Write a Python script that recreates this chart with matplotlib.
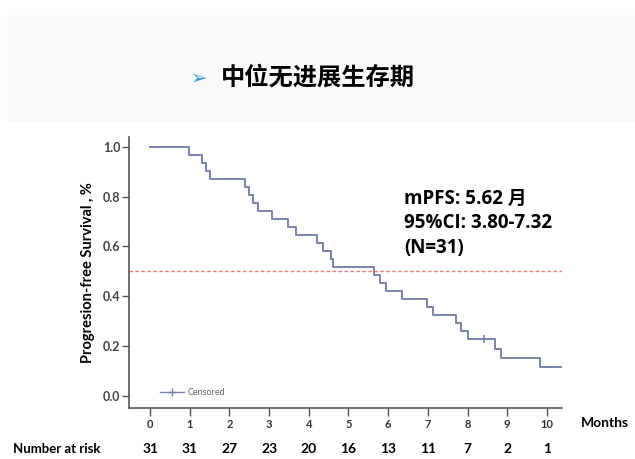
import matplotlib.pyplot as plt
from matplotlib.patches import Rectangle

# ---------------------------------------------------------------------
# data
# ---------------------------------------------------------------------
step_months = [0, 0.98, 1.32, 1.40, 1.51, 2.39, 2.49, 2.60, 2.73, 3.07,
               3.48, 3.69, 4.21, 4.35, 4.57, 4.61, 5.65, 5.80, 5.95, 6.34,
               6.97, 7.13, 7.72, 7.84, 8.00, 8.69, 8.85, 9.82, 10.37]
survival = [1.0, 0.968, 0.935, 0.903, 0.871, 0.839, 0.806, 0.774, 0.742, 0.710,
            0.677, 0.645, 0.613, 0.581, 0.548, 0.516, 0.484, 0.452, 0.419, 0.387,
            0.355, 0.323, 0.290, 0.258, 0.226, 0.188, 0.151, 0.113, 0.113]
censor_months = [8.41]
censor_surv = [0.226]

risk_months = [0, 1, 2, 3, 4, 5, 6, 7, 8, 9, 10]
number_at_risk = [31, 31, 27, 23, 20, 16, 13, 11, 7, 2, 1]
y_ticks = [0.0, 0.2, 0.4, 0.6, 0.8, 1.0]

title = "中位无进展生存期"
summary = "mPFS: 5.62 月\n95%CI: 3.80-7.32\n(N=31)"

LATIN_CJK = ["Lato", "Noto Sans CJK SC", "DejaVu Sans"]
WIDE_CJK = ["Open Sans", "Noto Sans CJK SC", "DejaVu Sans"]
CURVE = "#7783ad"
AXIS = "#555555"

fig = plt.figure(figsize=(6.35, 4.59), dpi=100)

# title banner
fig.patches.append(Rectangle((8 / 635, 1 - 121 / 459), 1, 105 / 459,
                             transform=fig.transFigure, color="#f8f9fa", zorder=0))
fig.text(199 / 635, 0.830, "➢", color="#2a9fd0", fontsize=14,
         ha="center", va="center", family=["DejaVu Sans"])
fig.text(318 / 635, 0.832, title, fontsize=17.5, fontweight="bold",
         ha="center", va="center", family=["Noto Sans CJK SC"])

# ---------------------------------------------------------------------
# KM plot
# ---------------------------------------------------------------------
ax = fig.add_axes([129 / 635, 51 / 459, 433 / 635, 271 / 459])
ax.step(step_months, survival, where="post", color=CURVE, lw=1.4)
ax.plot(censor_months, censor_surv, "+", color=CURVE, ms=6, mew=1.2)
ax.axhline(0.5, color="#ef7d72", lw=1.0, ls=(0, (2.5, 1.8)))

ax.set_xlim(-0.53, 10.38)
ax.set_ylim(-0.05, 1.04)
ax.set_xticks(risk_months)
ax.set_xticklabels([str(m) for m in risk_months], fontsize=8, fontweight="bold",
                   color="#333333", family=LATIN_CJK)
ax.set_yticks(y_ticks)
ax.set_yticklabels([f"{v:.1f}" for v in y_ticks], fontsize=9, fontweight="bold",
                   color="#444444", family=LATIN_CJK)
ax.tick_params(axis="x", length=6, width=1, color=AXIS, pad=2)
ax.tick_params(axis="y", length=5, width=1, color=AXIS, pad=1)
for side in ["top", "right"]:
    ax.spines[side].set_visible(False)
for side in ["left", "bottom"]:
    ax.spines[side].set_color(AXIS)
    ax.spines[side].set_linewidth(1.2)

ax.set_ylabel("Progresion-free Survival , %", fontsize=10.5, fontweight="bold",
              family=LATIN_CJK, labelpad=6)

# legend
ax.plot([0.25, 0.85], [0.014, 0.014], color=CURVE, lw=1)
ax.plot([0.55], [0.014], "+", color=CURVE, ms=6)
ax.text(0.95, 0.014, "Censored", fontsize=6.5, color="#666666", va="center",
        family=LATIN_CJK)

ax.text(6.4, 0.555, summary, fontsize=13.5, fontweight="bold", va="bottom",
        ha="left", linespacing=1.3, family=WIDE_CJK)

# months label and number at risk row
ax.text(10.85, -0.11, "Months", fontsize=10, fontweight="bold",
        va="center", ha="left", family=LATIN_CJK)
ax.text(-1.25, -0.215, "Number at risk", fontsize=9.5, fontweight="bold",
        va="center", ha="right", family=LATIN_CJK)
for m, n in zip(risk_months, number_at_risk):
    ax.text(m, -0.215, str(n), fontsize=10, fontweight="bold",
            va="center", ha="center", family=LATIN_CJK)

fig.savefig("out.png", dpi=100)
